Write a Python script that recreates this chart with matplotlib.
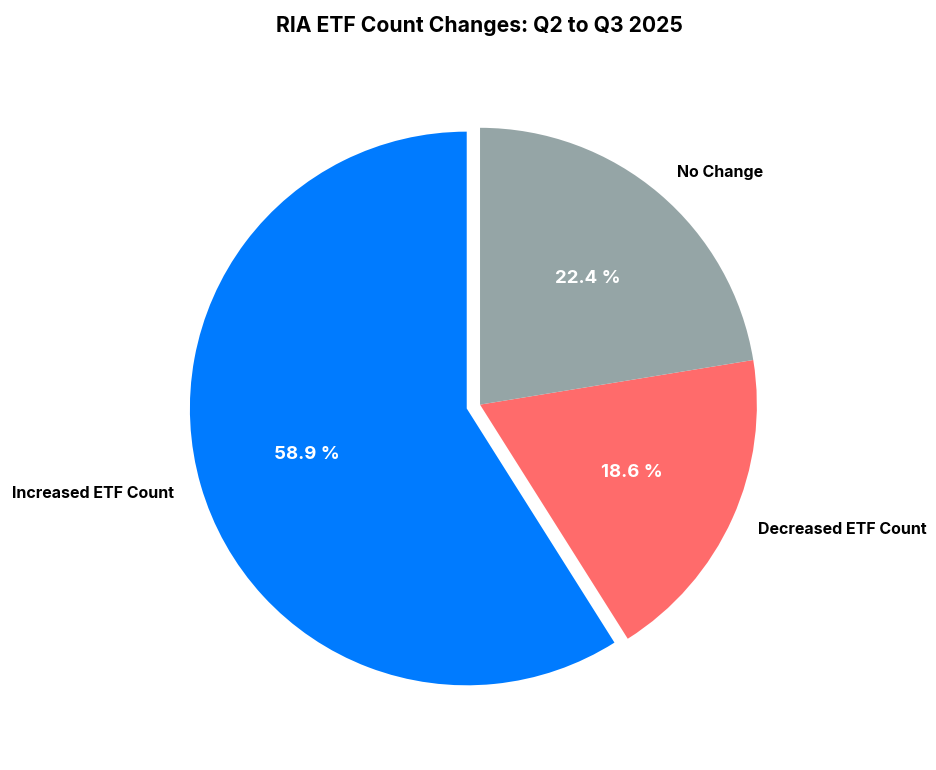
import matplotlib.pyplot as plt

plt.rcParams['font.family'] = ['Inter', 'DejaVu Sans']

# data
labels = ["Increased ETF Count", "Decreased ETF Count", "No Change"]
shares = [58.9, 18.6, 22.4]
colors = ["#007BFF", "#FF6B6B", "#95A5A6"]
explode = [0.05, 0, 0]

total = sum(shares)

fig = plt.figure(figsize=(9.37, 7.7), dpi=100)
ax = fig.add_axes([0.143, 0.025, 0.7386, 0.899])

wedges, texts, autotexts = ax.pie(
    shares, labels=labels, colors=colors, explode=explode,
    startangle=90, autopct=lambda p: f"{p * total / 100:.1f} %",
    textprops={"fontsize": 11.5, "fontweight": "bold"})
for t in autotexts:
    t.set_color("white")
    t.set_fontsize(13.4)
ax.set_aspect("equal")

# title centred over the pie, not the figure
fig.suptitle("RIA ETF Count Changes: Q2 to Q3 2025", x=0.512, y=0.966,
             va="center", fontsize=15.2, fontweight="bold")

fig.savefig("out.png", dpi=100)
